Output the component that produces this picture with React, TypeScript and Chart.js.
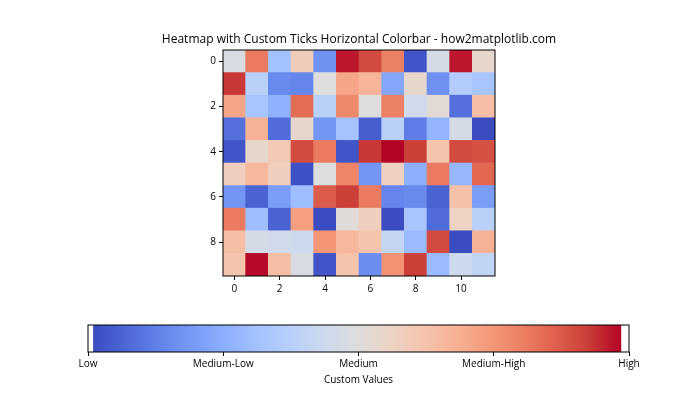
import React, { useEffect, useRef } from 'react';
import { Chart, registerables } from 'chart.js';

Chart.register(...registerables);

const TITLE = 'Heatmap with Custom Ticks Horizontal Colorbar - how2matplotlib.com';
const CBAR_TITLE = 'Custom Values';

const X_TICKS = [0, 2, 4, 6, 8, 10];
const Y_TICKS = [0, 2, 4, 6, 8];

const ROW0 = [0.48, 0.81, 0.31, 0.59, 0.17, 0.965, 0.90, 0.80, 0.03, 0.47, 0.965, 0.54];
const ROW1 = [0.93, 0.38, 0.15, 0.14, 0.50, 0.71, 0.67, 0.23, 0.54, 0.17, 0.36, 0.33];
const ROW2 = [0.71, 0.33, 0.26, 0.84, 0.38, 0.78, 0.50, 0.80, 0.45, 0.52, 0.09, 0.64];
const ROW3 = [0.09, 0.68, 0.08, 0.54, 0.18, 0.32, 0.05, 0.38, 0.12, 0.27, 0.47, 0.01];
const ROW4 = [0.03, 0.54, 0.60, 0.90, 0.81, 0.03, 0.93, 0.985, 0.92, 0.62, 0.90, 0.89];
const ROW5 = [0.58, 0.66, 0.58, 0.02, 0.49, 0.79, 0.18, 0.57, 0.25, 0.81, 0.28, 0.85];
const ROW6 = [0.18, 0.06, 0.20, 0.30, 0.87, 0.92, 0.81, 0.14, 0.15, 0.06, 0.63, 0.20];
const ROW7 = [0.81, 0.30, 0.06, 0.73, 0.01, 0.51, 0.58, 0.01, 0.33, 0.08, 0.56, 0.38];
const ROW8 = [0.64, 0.47, 0.45, 0.44, 0.75, 0.66, 0.62, 0.41, 0.29, 0.90, 0.01, 0.68];
const ROW9 = [0.62, 0.98, 0.64, 0.48, 0.03, 0.62, 0.16, 0.76, 0.92, 0.29, 0.44, 0.40];
const VALUES = [ROW0, ROW1, ROW2, ROW3, ROW4, ROW5, ROW6, ROW7, ROW8, ROW9];

const CBAR_TICKS = [0, 0.25, 0.5, 0.75, 1];
const CBAR_LABELS = ['Low', 'Medium-Low', 'Medium', 'Medium-High', 'High'];

// coolwarm colormap stops
const COOLWARM = [
  [59, 76, 192], [77, 104, 215], [98, 130, 234], [119, 154, 247], [141, 176, 254],
  [163, 194, 255], [184, 208, 249], [204, 217, 238], [221, 221, 221], [236, 211, 197],
  [245, 196, 173], [247, 177, 148], [244, 154, 123], [236, 127, 99], [222, 96, 77],
  [203, 62, 56], [180, 4, 38],
];

const ALL = VALUES.flat();
const VMIN = Math.min(...ALL);
const VMAX = Math.max(...ALL);

function coolwarm(t: number): string {
  const n = COOLWARM.length - 1;
  const x = Math.min(Math.max(t, 0), 1) * n;
  const i = Math.min(Math.floor(x), n - 1);
  const f = x - i;
  const a = COOLWARM[i];
  const b = COOLWARM[i + 1];
  const c = a.map((v, k) => Math.round(v + (b[k] - v) * f));
  return `rgb(${c[0]},${c[1]},${c[2]})`;
}

const norm = (v: number) => (v - VMIN) / (VMAX - VMIN);

const FONT = "'Open Sans', sans-serif";

const framePlugin = {
  id: 'frame',
  afterDraw(chart: any) {
    const { ctx, chartArea: a } = chart;
    ctx.save();
    ctx.strokeStyle = '#000';
    ctx.lineWidth = 1;
    ctx.strokeRect(a.left, a.top, a.right - a.left, a.bottom - a.top);
    ctx.restore();
  },
};

export default function App() {
  const heatRef = useRef<HTMLCanvasElement>(null);
  const barRef = useRef<HTMLCanvasElement>(null);

  useEffect(() => {
    const cells: any[] = [];
    const colors: string[] = [];
    VALUES.forEach((row, r) =>
      row.forEach((v, c) => {
        cells.push({ x: c, y: [r - 0.5, r + 0.5] });
        colors.push(coolwarm(norm(v)));
      })
    );

    const tickFont = { family: FONT, size: 10 };
    const SIDE = 80;

    const heat = new Chart(heatRef.current as HTMLCanvasElement, {
      type: 'bar',
      data: {
        datasets: [
          {
            data: cells,
            backgroundColor: colors,
            borderWidth: 0,
            barPercentage: 1,
            categoryPercentage: 1,
          } as any,
        ],
      },
      options: {
        animation: false,
        responsive: false,
        events: [],
        layout: { padding: { left: 223 - SIDE, right: 205 - SIDE, top: 32, bottom: 124 } },
        plugins: {
          legend: { display: false },
          tooltip: { enabled: false },
          title: {
            display: true,
            text: TITLE,
            color: '#000',
            font: { family: FONT, size: 12, weight: 'normal' },
            padding: { top: 0, bottom: 3.6 },
          },
        },
        scales: {
          x: {
            type: 'linear',
            min: -0.5,
            max: 11.5,
            offset: false,
            afterBuildTicks: (s: any) => {
              s.ticks = X_TICKS.map((v) => ({ value: v }));
            },
            afterFit: (s: any) => {
              s.height = 20;
            },
            grid: { drawOnChartArea: false, tickLength: 4, color: '#000', offset: false },
            border: { display: false },
            ticks: { color: '#000', font: tickFont, padding: 3, autoSkip: false, maxRotation: 0 },
          },
          y: {
            type: 'linear',
            reverse: true,
            min: -0.5,
            max: 9.5,
            afterBuildTicks: (s: any) => {
              s.ticks = Y_TICKS.map((v) => ({ value: v }));
            },
            afterFit: (s: any) => {
              s.width = SIDE;
            },
            grid: { drawOnChartArea: false, tickLength: 4, color: '#000' },
            border: { display: false },
            ticks: { color: '#000', font: tickFont, padding: 3, autoSkip: false },
          },
          yRight: {
            type: 'linear',
            position: 'right',
            display: true,
            min: 0,
            max: 1,
            afterFit: (s: any) => {
              s.width = SIDE;
            },
            grid: { display: false },
            border: { display: false },
            ticks: { display: false },
          },
        },
      } as any,
      plugins: [framePlugin],
    });

    const cbar = new Chart(barRef.current as HTMLCanvasElement, {
      type: 'bar',
      data: {
        labels: [''],
        datasets: [
          {
            data: [[VMIN, VMAX]],
            backgroundColor: (ctx: any) => {
              const chart = ctx.chart;
              if (!chart.chartArea) return 'rgba(0,0,0,0)';
              const xs = chart.scales.x;
              const x0 = xs.getPixelForValue(VMIN);
              const x1 = xs.getPixelForValue(VMAX);
              const g = chart.ctx.createLinearGradient(x0, 0, x1, 0);
              COOLWARM.forEach((c, i) =>
                g.addColorStop(i / (COOLWARM.length - 1), `rgb(${c[0]},${c[1]},${c[2]})`)
              );
              return g;
            },
            borderWidth: 0,
            barPercentage: 1,
            categoryPercentage: 1,
          } as any,
        ],
      },
      options: {
        indexAxis: 'y',
        animation: false,
        responsive: false,
        events: [],
        layout: { padding: { left: 88, right: 71, top: 325, bottom: 34 } },
        plugins: { legend: { display: false }, tooltip: { enabled: false } },
        scales: {
          x: {
            type: 'linear',
            min: 0,
            max: 1,
            offset: false,
            afterBuildTicks: (s: any) => {
              s.ticks = CBAR_TICKS.map((v) => ({ value: v }));
            },
            afterFit: (s: any) => {
              s.height = 34;
            },
            grid: { drawOnChartArea: false, tickLength: 4, color: '#000', offset: false },
            border: { display: false },
            ticks: {
              color: '#000',
              font: tickFont,
              padding: 2,
              autoSkip: false,
              maxRotation: 0,
              callback: (_v: any, i: number) => CBAR_LABELS[i],
            },
            title: {
              display: true,
              text: CBAR_TITLE,
              color: '#000',
              font: tickFont,
              padding: { top: 0, bottom: 0 },
            },
          },
          y: { display: false },
        },
      } as any,
      plugins: [framePlugin],
    });

    return () => {
      heat.destroy();
      cbar.destroy();
    };
  }, []);

  return (
    <div style={{ position: 'fixed', left: 0, top: 0, width: 700, height: 420, background: '#fff' }}>
      <canvas ref={heatRef} width={700} height={420} style={{ position: 'absolute', left: 0, top: 0 }} />
      <canvas ref={barRef} width={700} height={420} style={{ position: 'absolute', left: 0, top: 0 }} />
    </div>
  );
}
